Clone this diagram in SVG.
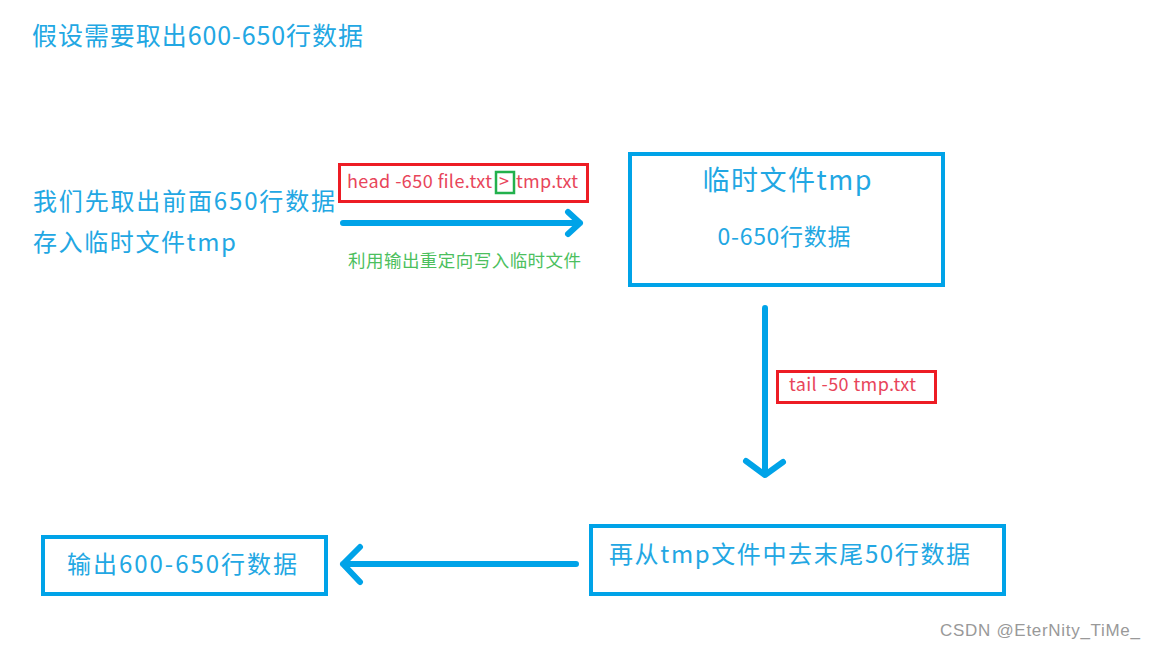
<svg xmlns="http://www.w3.org/2000/svg" width="1155" height="650" viewBox="0 0 1155 650">
<defs>
<style>
.t{font-family:"Microsoft YaHei","Noto Sans CJK SC","Noto Sans",sans-serif;fill:#22a7e3}
.r{font-family:"Microsoft YaHei","Noto Sans CJK SC","Noto Sans",sans-serif;fill:#e8455a;font-size:18px}
.g{font-family:"Microsoft YaHei","Noto Sans CJK SC","Noto Sans",sans-serif;fill:#4cbf5e;font-size:17.5px}
.box{fill:#fff;stroke:#00a3e8;stroke-width:4}
.rbox{fill:none;stroke:#ed1c24;stroke-width:3}
.arr{fill:none;stroke:#00a3e8;stroke-width:6;stroke-linecap:round;stroke-linejoin:round}
</style>
</defs>
<rect width="1155" height="650" fill="#fff"/>
<text class="t" x="32" y="45" font-size="25" textLength="331" lengthAdjust="spacing">假设需要取出600-650行数据</text>
<g id="step1">
<text class="t" x="33" y="210" font-size="24" textLength="302" lengthAdjust="spacing">我们先取出前面650行数据</text>
<text class="t" x="33" y="251" font-size="24" textLength="203" lengthAdjust="spacing">存入临时文件tmp</text>
</g>
<g id="cmd-head">
<rect class="rbox" x="339.5" y="164.5" width="248" height="37"/>
<text class="r" x="347" y="188" textLength="145" lengthAdjust="spacing">head -650 file.txt</text>
<text class="r" x="499" y="188">&gt;</text>
<text class="r" x="516" y="188" textLength="62" lengthAdjust="spacing">tmp.txt</text>
<rect x="496" y="172" width="18" height="21" fill="none" stroke="#22b14c" stroke-width="2.5"/>
</g>
<text class="g" x="348" y="267" textLength="233" lengthAdjust="spacing">利用输出重定向写入临时文件</text>
<g id="tmp">
<rect class="box" x="630" y="154" width="313" height="131"/>
<text class="t" x="787" y="190" font-size="27" text-anchor="middle" textLength="169" lengthAdjust="spacing">临时文件tmp</text>
<text class="t" x="784" y="245" font-size="23" text-anchor="middle" textLength="133" lengthAdjust="spacing">0-650行数据</text>
</g>
<g id="cmd-tail">
<rect class="rbox" x="777.5" y="371.5" width="158" height="31"/>
<text class="r" x="789" y="391" textLength="127" lengthAdjust="spacing">tail -50 tmp.txt</text>
</g>
<g id="strip">
<rect class="box" x="591" y="526" width="413" height="68"/>
<text class="t" x="609" y="563" font-size="24" textLength="361" lengthAdjust="spacing">再从tmp文件中去末尾50行数据</text>
</g>
<g id="output">
<rect class="box" x="43" y="537" width="283" height="57"/>
<text class="t" x="67" y="573" font-size="24" textLength="230" lengthAdjust="spacing">输出600-650行数据</text>
</g>
<g id="connectors">
<path class="arr" d="M343 223 L580 223 M568 212 L580 223 L568 234"/>
<path class="arr" d="M765 308 L765 475 M746 461 L765 475 L783 462"/>
<path class="arr" d="M576 564 L343 564 M360 547 L343 564 L360 582"/>
</g>
<text x="940" y="636" font-family="Liberation Sans, sans-serif" font-size="17" fill="#999" textLength="200" lengthAdjust="spacing">CSDN @EterNity_TiMe_</text>
</svg>
